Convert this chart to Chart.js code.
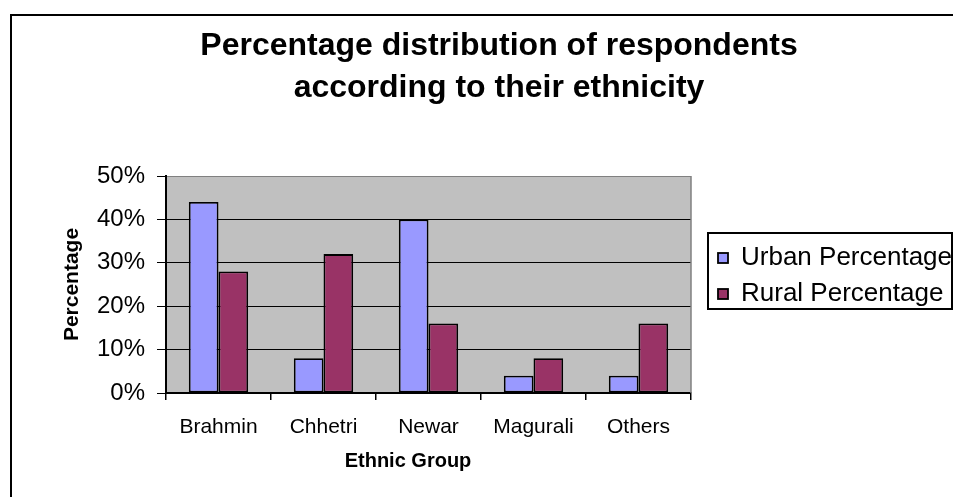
<!DOCTYPE html>
<html>
<head>
<meta charset="utf-8">
<title>Percentage distribution of respondents according to their ethnicity</title>
<script src="https://cdn.jsdelivr.net/npm/chart.js@4.4.1/dist/chart.umd.min.js"></script>
<style>
  html, body { margin: 0; padding: 0; background: #ffffff; }
  #wrap { width: 953px; height: 497px; position: relative; }
</style>
</head>
<body>
<div id="wrap"><canvas id="chart" width="953" height="497"></canvas></div>
<script>
// Survey results: share of respondents by ethnic group (percent)
const ethnicGroups = ['Brahmin', 'Chhetri', 'Newar', 'Magurali', 'Others'];
const urbanPercentage = [44, 8, 40, 4, 4];
const ruralPercentage = [28, 32, 16, 8, 16];
const seriesNames = ['Urban Percentage', 'Rural Percentage'];
const yTickValues = [0, 10, 20, 30, 40, 50];
const chartTitle = ['Percentage distribution of respondents', 'according to their ethnicity'];
const xAxisTitle = 'Ethnic Group';
const yAxisTitle = 'Percentage';

const FONT = '"Liberation Sans", Arial, Helvetica, sans-serif';

// Outer frame and grey plot background
const frameAndPlot = {
  id: 'frameAndPlot',
  beforeDraw(chart) {
    const { ctx, chartArea: a } = chart;
    ctx.save();
    ctx.fillStyle = '#ffffff';
    ctx.fillRect(0, 0, chart.width, chart.height);
    ctx.strokeStyle = '#000000';
    ctx.lineWidth = 2;
    ctx.beginPath();
    ctx.moveTo(11, chart.height + 5);
    ctx.lineTo(11, 15);
    ctx.lineTo(chart.width + 5, 15);
    ctx.stroke();
    ctx.fillStyle = '#C0C0C0';
    ctx.fillRect(a.left, a.top, a.right - a.left, a.bottom - a.top);
    ctx.restore();
  },
  beforeDatasetsDraw(chart) {
    const { ctx, chartArea: a } = chart;
    ctx.save();
    ctx.strokeStyle = '#808080';
    ctx.lineWidth = 1.5;
    ctx.beginPath();
    ctx.moveTo(a.right, a.top);
    ctx.lineTo(a.right, a.bottom);
    ctx.stroke();
    ctx.restore();
  }
};

// Boxed legend at the right of the plot, built from the datasets
const boxedLegend = {
  id: 'boxedLegend',
  afterDraw(chart, args, o) {
    const { ctx } = chart;
    ctx.save();
    ctx.strokeStyle = '#000000';
    ctx.lineWidth = 2;
    ctx.strokeRect(o.x, o.y, o.w, o.h);
    ctx.font = o.fontSize + 'px ' + FONT;
    ctx.textBaseline = 'middle';
    ctx.textAlign = 'left';
    chart.data.datasets.forEach((ds, i) => {
      const cy = o.firstRow + i * o.rowGap;
      ctx.fillStyle = ds.backgroundColor;
      ctx.fillRect(o.swatchX, cy - o.swatch / 2, o.swatch, o.swatch);
      ctx.lineWidth = 1.8;
      ctx.strokeStyle = '#000000';
      ctx.strokeRect(o.swatchX, cy - o.swatch / 2, o.swatch, o.swatch);
      ctx.fillStyle = '#000000';
      ctx.fillText(ds.label, o.textX, cy);
    });
    ctx.restore();
  }
};

// Category axis caption
const xCaption = {
  id: 'xCaption',
  afterDraw(chart, args, o) {
    const { ctx } = chart;
    ctx.save();
    ctx.font = 'bold ' + o.fontSize + 'px ' + FONT;
    ctx.fillStyle = '#000000';
    ctx.textAlign = 'center';
    ctx.textBaseline = 'middle';
    ctx.fillText(o.text, o.x, o.y);
    ctx.restore();
  }
};

new Chart(document.getElementById('chart'), {
  type: 'bar',
  data: {
    labels: ethnicGroups,
    datasets: [
      {
        label: seriesNames[0],
        data: urbanPercentage,
        backgroundColor: '#9999FF',
        borderColor: '#000000',
        borderWidth: 1.8,
        borderSkipped: false
      },
      {
        label: seriesNames[1],
        data: ruralPercentage,
        backgroundColor: '#993366',
        borderColor: '#000000',
        borderWidth: 1.8,
        borderSkipped: false
      }
    ]
  },
  options: {
    responsive: false,
    animation: false,
    devicePixelRatio: 1,
    categoryPercentage: 0.565,
    barPercentage: 1.0,
    layout: { padding: { left: 45, right: 0, top: 0, bottom: 0 } },
    plugins: {
      legend: { display: false },
      tooltip: { enabled: false },
      title: {
        display: true,
        text: chartTitle,
        color: '#000000',
        font: { family: FONT, size: 32, weight: 'bold', lineHeight: 1.3125 },
        padding: { top: 25, bottom: 67 }
      },
      boxedLegend: {
        x: 708, y: 233, w: 244, h: 76,
        swatchX: 718, swatch: 10,
        textX: 741, firstRow: 258, rowGap: 36, fontSize: 26
      },
      xCaption: { text: xAxisTitle, x: 408, y: 461, fontSize: 20 }
    },
    scales: {
      x: {
        type: 'category',
        offset: true,
        grid: {
          display: true,
          offset: true,
          drawOnChartArea: false,
          drawTicks: true,
          tickLength: 7,
          color: '#000000',
          lineWidth: 1.5
        },
        border: { display: true, color: '#000000', width: 2 },
        ticks: {
          color: '#000000',
          font: { family: FONT, size: 21 },
          padding: 15,
          maxRotation: 0,
          autoSkip: false
        },
        title: { display: false },
        afterFit(scale) { scale.height = 104; }
      },
      y: {
        type: 'linear',
        min: 0,
        max: 50,
        afterBuildTicks(scale) {
          scale.ticks = yTickValues.map(v => ({ value: v }));
        },
        grid: {
          color: ctx => (ctx.tick && ctx.tick.value === 50 ? '#808080' : '#000000'),
          tickColor: '#000000',
          lineWidth: 1,
          drawTicks: true,
          tickLength: 9
        },
        border: { display: true, color: '#000000', width: 2 },
        ticks: {
          color: '#000000',
          font: { family: FONT, size: 24 },
          padding: 12,
          callback: v => v + '%'
        },
        title: {
          display: true,
          text: yAxisTitle,
          color: '#000000',
          font: { family: FONT, size: 21, weight: 'bold' },
          padding: { top: 15, bottom: 0 }
        },
        afterFit(scale) { scale.width = 121; }
      },
      legendSpace: {
        type: 'linear',
        position: 'right',
        display: true,
        grid: { display: false, drawTicks: false },
        border: { display: false },
        ticks: { display: false },
        title: { display: false },
        afterFit(scale) { scale.width = 262; }
      }
    }
  },
  plugins: [frameAndPlot, boxedLegend, xCaption]
});
</script>
</body>
</html>
